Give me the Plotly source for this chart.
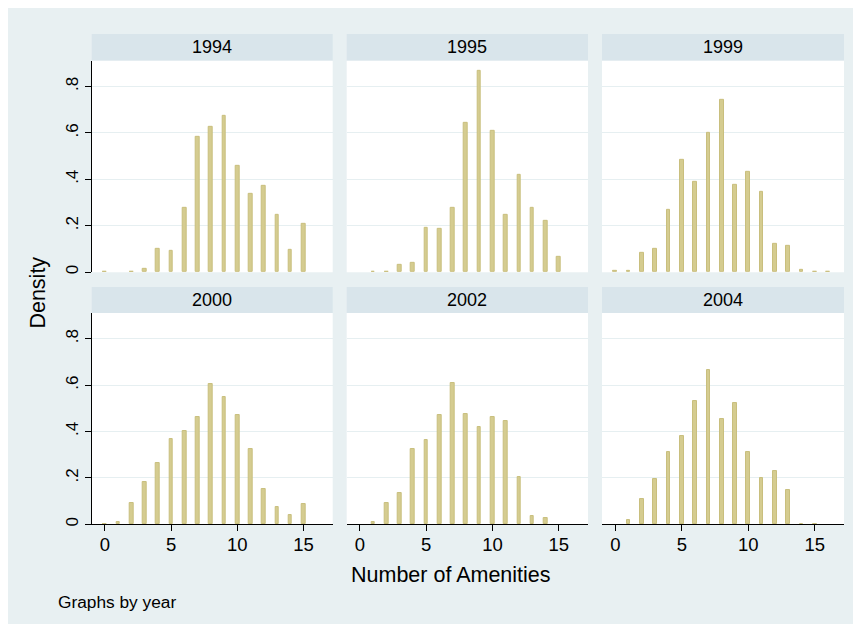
import plotly.graph_objects as go

# page body adds an 8px margin; figure is sized so it fits the 861x632 window
OFF = 8
W, H = 861 - OFF, 632 - OFF

amenities = list(range(0, 17))
years = ["1994", "1995", "1999", "2000", "2002", "2004"]
density_1994 = [0.003, None, 0.003, 0.016, 0.099, 0.093, 0.275, 0.584, 0.625, 0.674, 0.459, 0.338, 0.373, 0.249, 0.095, 0.209, None]
density_1995 = [None, 0.003, 0.003, 0.033, 0.042, 0.192, 0.188, 0.277, 0.644, 0.869, 0.608, 0.247, 0.419, 0.277, 0.219, 0.066, None]
density_1999 = [0.007, 0.007, 0.083, 0.100, 0.267, 0.485, 0.390, 0.599, 0.743, 0.377, 0.433, 0.346, 0.122, 0.115, 0.011, 0.003, 0.003]
density_2000 = [0.003, 0.010, 0.093, 0.184, 0.264, 0.366, 0.404, 0.463, 0.604, 0.548, 0.472, 0.325, 0.153, 0.075, 0.039, 0.089, None]
density_2002 = [None, 0.009, 0.093, 0.136, 0.325, 0.363, 0.472, 0.609, 0.476, 0.419, 0.463, 0.446, 0.205, 0.036, 0.027, None, None]
density_2004 = [None, 0.020, 0.109, 0.196, 0.311, 0.380, 0.530, 0.665, 0.454, 0.523, 0.310, 0.199, 0.229, 0.148, 0.003, 0.003, None]
densities = [density_1994, density_1995, density_1999, density_2000, density_2002, density_2004]

x_ticks = [0, 5, 10, 15]
y_ticks = [0, 0.2, 0.4, 0.6, 0.8]
y_tick_labels = ["0", ".2", ".4", ".6", ".8"]

BG = "#E8F0F2"
STRIP = "#D9E5EB"
GRID = "#E6EFF1"
BAR = "#D5CC90"
BAR_LINE = "#C9BF7E"
FONT = "Liberation Sans, Arial, sans-serif"

# window-pixel layout of the reference
col_px = [(91.7, 332.7), (346.7, 588.0), (602.0, 844.0)]
row_px = [(61.0, 273.0), (314.0, 526.0)]
strip_px = [(34.0, 61.0), (288.0, 314.0)]

def px_x(p):
    return (p - OFF) / W

def px_y(p):
    return 1 - (p - OFF) / H

fig = go.Figure()
shapes = [dict(type="rect", xref="paper", yref="paper", x0=px_x(8), x1=px_x(853), y0=px_y(626), y1=px_y(8),
               fillcolor=BG, line=dict(width=0), layer="below")]
annotations = []

for i, (year, dens) in enumerate(zip(years, densities)):
    r, c = divmod(i, 3)
    n = i + 1
    xa = "x" if n == 1 else f"x{n}"
    ya = "y" if n == 1 else f"y{n}"
    fig.add_trace(go.Bar(x=amenities, y=dens, width=0.28, xaxis=xa, yaxis=ya,
                         marker=dict(color=BAR, line=dict(color=BAR_LINE, width=1)),
                         showlegend=False))
    x0, x1 = col_px[c]
    y0, y1 = row_px[r]
    xkey = "xaxis" if n == 1 else f"xaxis{n}"
    ykey = "yaxis" if n == 1 else f"yaxis{n}"
    bottom = r == 1
    left = c == 0
    fig.update_layout(**{
        xkey: dict(domain=[px_x(x0), px_x(x1)], anchor=ya, range=[-1.0, 17.2],
                   showgrid=False, zeroline=False,
                   showline=bottom, linecolor="#000000", linewidth=1,
                   ticks="outside" if bottom else "", ticklen=6, tickcolor="#000000",
                   tickvals=x_ticks if bottom else [], showticklabels=bottom,
                   ticklabelstandoff=-3,
                   tickfont=dict(family=FONT, size=18.5, color="#000000")),
        ykey: dict(domain=[px_y(y1), px_y(y0)], anchor=xa, range=[0, 0.9105],
                   showgrid=True, gridcolor=GRID, gridwidth=1, zeroline=False,
                   tickvals=y_ticks, ticktext=y_tick_labels,
                   showline=left, linecolor="#000000", linewidth=1,
                   ticks="outside" if left else "", ticklen=6, tickcolor="#000000",
                   showticklabels=left, tickangle=-90,
                   tickfont=dict(family=FONT, size=17, color="#000000")),
    })
    s0, s1 = strip_px[r]
    shapes.append(dict(type="rect", xref="paper", yref="paper", x0=px_x(x0), x1=px_x(x1),
                       y0=px_y(s1), y1=px_y(s0), fillcolor=STRIP, line=dict(width=0), layer="below"))
    shapes.append(dict(type="rect", xref="paper", yref="paper", x0=px_x(x0), x1=px_x(x1),
                       y0=px_y(y1), y1=px_y(y0), fillcolor="#FFFFFF", line=dict(width=0), layer="below"))
    annotations.append(dict(text=year, xref="paper", yref="paper", x=px_x((x0 + x1) / 2), y=px_y((s0 + s1) / 2),
                            showarrow=False, xanchor="center", yanchor="middle",
                            font=dict(family=FONT, size=18, color="#000000")))

annotations.append(dict(text="Density", xref="paper", yref="paper", x=px_x(38), y=px_y(293.5), textangle=-90,
                        showarrow=False, xanchor="center", yanchor="middle",
                        font=dict(family=FONT, size=21.5, color="#000000")))
annotations.append(dict(text="Number of Amenities", xref="paper", yref="paper", x=px_x(451), y=px_y(577),
                        showarrow=False, xanchor="center", yanchor="middle",
                        font=dict(family=FONT, size=21.5, color="#000000")))
annotations.append(dict(text="Graphs by year", xref="paper", yref="paper", x=px_x(56), y=px_y(604),
                        showarrow=False, xanchor="left", yanchor="middle",
                        font=dict(family=FONT, size=17.3, color="#000000")))

fig.update_layout(width=W, height=H, margin=dict(l=0, r=0, t=0, b=0),
                  paper_bgcolor="#FFFFFF", plot_bgcolor="rgba(0,0,0,0)",
                  shapes=shapes, annotations=annotations, bargap=0)

fig.write_html("out.html")
